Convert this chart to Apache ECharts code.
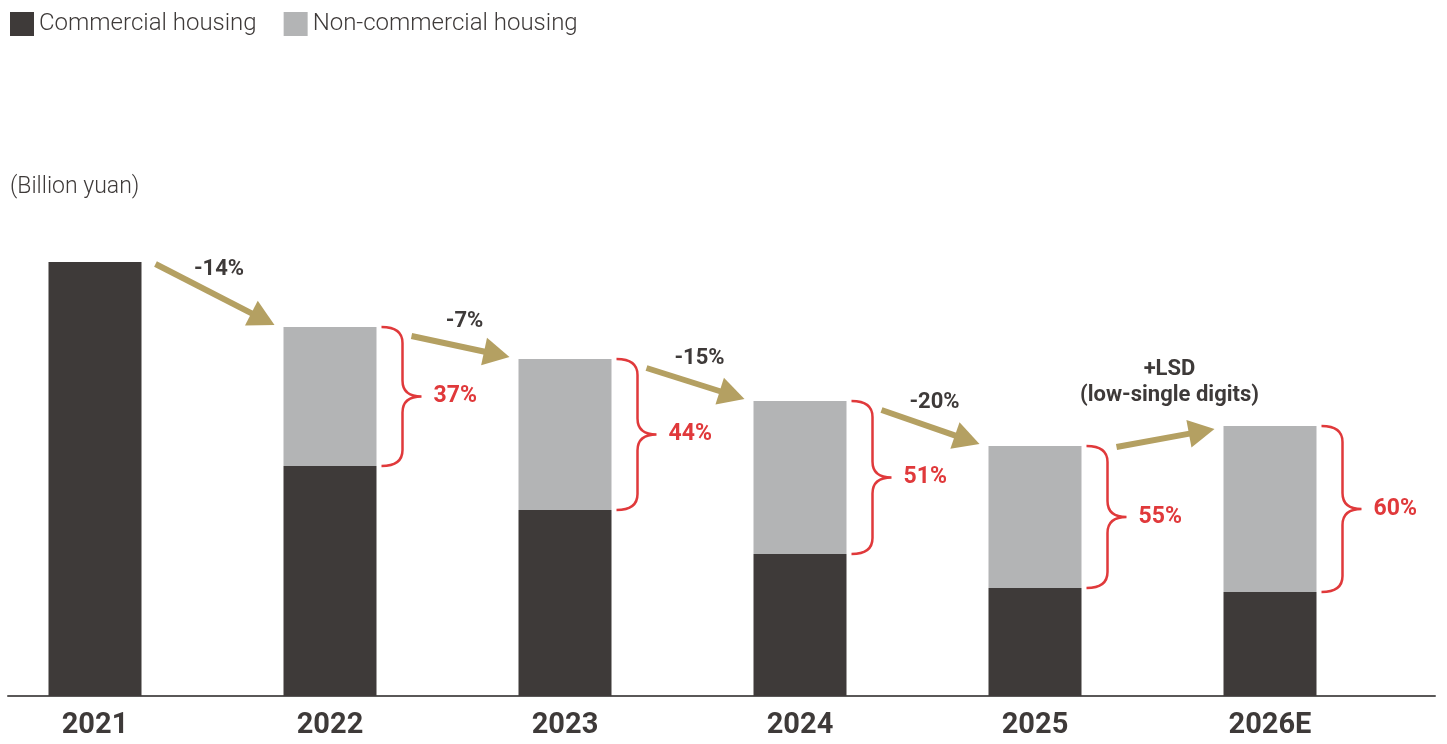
<!DOCTYPE html>
<html>
<head>
<meta charset="utf-8">
<script src="https://cdn.jsdelivr.net/npm/echarts@6/dist/echarts.min.js"></script>
<style>
  html, body { margin: 0; padding: 0; background: #fff; }
  #chart { width: 1447px; height: 744px; }
</style>
</head>
<body>
<div id="chart"></div>
<script>
// data (billion yuan, scale estimated)
const years = ['2021', '2022', '2023', '2024', '2025', '2026E'];
const commercial = [434, 230, 186, 142, 108, 104];
const nonCommercial = [null, 139, 151, 153, 142, 166];
const nonShare = ['', '37%', '44%', '51%', '55%', '60%'];
const growth = ['-14%', '-7%', '-15%', '-20%', '+LSD\n(low-single digits)'];

const totals = commercial.map((v, i) => v + (nonCommercial[i] || 0));

const DARK = '#3e3a39';
const GREY = '#b3b4b5';
const GOLD = '#b4a062';
const RED = '#e0393b';
const HALF_BAR = 46.5;

const chart = echarts.init(document.getElementById('chart'));

// braces + share labels
const braceData = years.map((y, i) => [i, commercial[i], totals[i], nonShare[i]]).filter(d => d[3]);
// arrows between totals
const arrowData = growth.map((g, i) => [i + 1, g]);

function renderBrace(params, api) {
  const d = braceData[params.dataIndex];
  const top = api.coord([d[0], d[2]]);
  const bot = api.coord([d[0], d[1]]);
  const x0 = top[0] + HALF_BAR + 5;
  const x1 = x0 + 21;
  const x2 = x1 + 19;
  const yT = top[1], yB = bot[1], yM = (yT + yB) / 2;
  const r = 16;
  const path = 'M' + x0 + ',' + yT +
    ' Q' + x1 + ',' + yT + ' ' + x1 + ',' + (yT + r) +
    ' L' + x1 + ',' + (yM - r) +
    ' Q' + x1 + ',' + yM + ' ' + x2 + ',' + yM +
    ' Q' + x1 + ',' + yM + ' ' + x1 + ',' + (yM + r) +
    ' L' + x1 + ',' + (yB - r) +
    ' Q' + x1 + ',' + yB + ' ' + x0 + ',' + yB;
  return {
    type: 'group',
    children: [
      {
        type: 'path',
        shape: { pathData: path },
        style: { fill: 'none', stroke: RED, lineWidth: 2.5 }
      },
      {
        type: 'text',
        x: x2 + 12,
        y: yM,
        style: {
          text: d[3],
          fill: RED,
          font: 'bold 23px Roboto, sans-serif',
          align: 'left',
          verticalAlign: 'middle'
        }
      }
    ]
  };
}

function renderArrow(params, api) {
  const i = arrowData[params.dataIndex][0];
  const label = arrowData[params.dataIndex][1];
  const a = api.coord([i - 1, totals[i - 1]]);
  const b = api.coord([i, totals[i]]);
  const rising = totals[i] > totals[i - 1];
  const sx = a[0] + HALF_BAR + (i === 1 ? 14 : 35);
  const sy = a[1] + (rising ? 1 : (i === 1 ? 2 : 9));
  const ex = b[0] - HALF_BAR - 9;
  const ey = b[1] + (rising ? 3 : -2);
  const dx = ex - sx, dy = ey - sy;
  const len = Math.sqrt(dx * dx + dy * dy);
  const ux = dx / len, uy = dy / len;
  const headLen = 26, headHalf = 14;
  const bx = ex - ux * headLen, by = ey - uy * headLen;
  const mx = (sx + ex) / 2, my = (sy + ey) / 2;
  const multi = label.indexOf('\n') >= 0;
  return {
    type: 'group',
    children: [
      {
        type: 'line',
        shape: { x1: sx, y1: sy, x2: bx + ux * 2, y2: by + uy * 2 },
        style: { stroke: GOLD, lineWidth: 6 }
      },
      {
        type: 'polygon',
        shape: { points: [[ex, ey], [bx - uy * headHalf, by + ux * headHalf], [bx + uy * headHalf, by - ux * headHalf]] },
        style: { fill: GOLD }
      },
      {
        type: 'text',
        x: mx + 4,
        y: my - (multi ? 30 : 12),
        style: {
          text: label,
          fill: DARK,
          font: 'bold 22px Roboto, sans-serif',
          lineHeight: 26,
          align: 'center',
          verticalAlign: 'bottom'
        }
      }
    ]
  };
}

const option = {
  animation: false,
  backgroundColor: '#fff',
  title: {
    text: '(Billion yuan)',
    left: 10,
    top: 176,
    padding: 0,
    textStyle: { color: DARK, fontSize: 23, fontWeight: 300, fontFamily: 'Roboto' }
  },
  legend: {
    left: 10,
    top: 12,
    padding: 0,
    itemWidth: 24,
    itemHeight: 24,
    itemGap: 27,
    icon: 'rect',
    textStyle: { color: DARK, fontSize: 24, fontWeight: 300, fontFamily: 'Roboto' },
    data: ['Commercial housing', 'Non-commercial housing']
  },
  grid: [
    { left: 95, width: 1175, top: 196, height: 500 },
    { left: 8, right: 12, top: 196, height: 500 }
  ],
  xAxis: [
    {
      type: 'category',
      gridIndex: 0,
      data: years,
      boundaryGap: false,
      axisLine: { show: false },
      axisTick: { show: false },
      axisLabel: {
        margin: 15,
        color: DARK,
        fontSize: 29,
        fontWeight: 'bold',
        fontFamily: 'Roboto, sans-serif'
      }
    },
    {
      type: 'value',
      gridIndex: 1,
      min: 0,
      max: 1,
      axisLine: { show: true, lineStyle: { color: '#5a5858', width: 2 } },
      axisTick: { show: false },
      axisLabel: { show: false },
      splitLine: { show: false }
    }
  ],
  yAxis: [
    { type: 'value', gridIndex: 0, min: 0, max: 500, show: false },
    { type: 'value', gridIndex: 1, min: 0, max: 1, show: false }
  ],
  series: [
    {
      name: 'Commercial housing',
      type: 'bar',
      stack: 'total',
      barWidth: 93,
      itemStyle: { color: DARK },
      data: commercial
    },
    {
      name: 'Non-commercial housing',
      type: 'bar',
      stack: 'total',
      barWidth: 93,
      itemStyle: { color: GREY },
      data: nonCommercial
    },
    {
      type: 'custom',
      renderItem: renderBrace,
      data: braceData,
      encode: { x: 0, y: 2 },
      clip: false,
      silent: true,
      z: 5
    },
    {
      type: 'custom',
      renderItem: renderArrow,
      data: arrowData,
      encode: { x: 0 },
      clip: false,
      silent: true,
      z: 6
    }
  ]
};

chart.setOption(option);
</script>
</body>
</html>
